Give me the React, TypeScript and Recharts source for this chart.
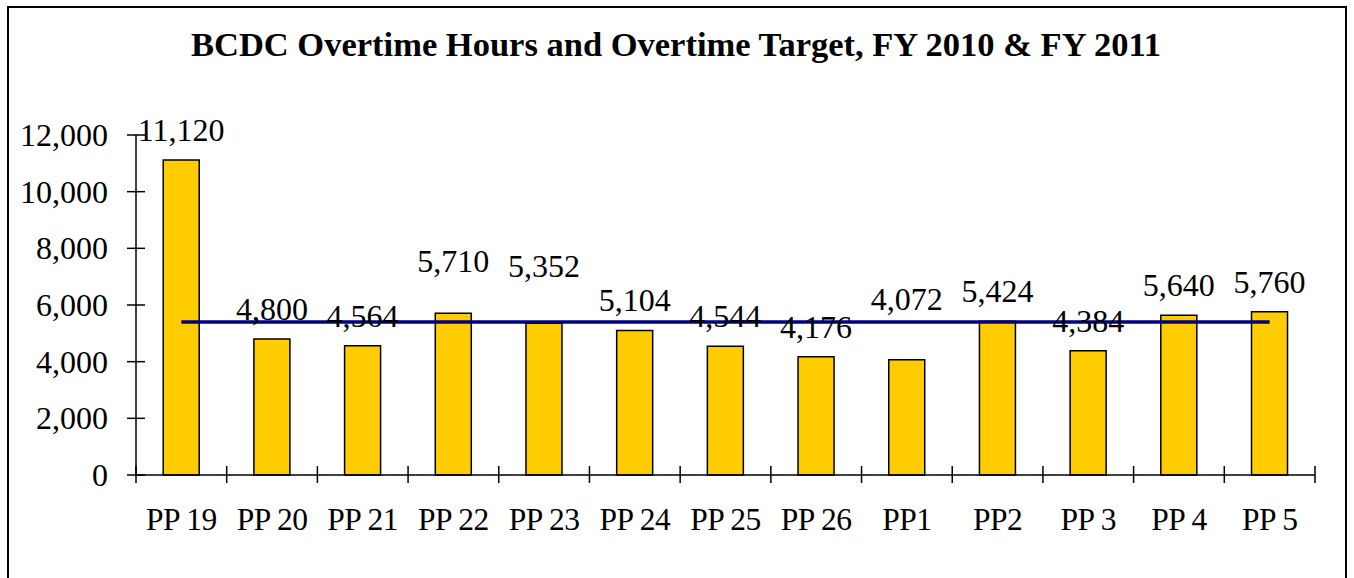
import React from "react";
import { ComposedChart, Bar, Line, XAxis, YAxis, LabelList } from "recharts";

const categories = ["PP 19", "PP 20", "PP 21", "PP 22", "PP 23", "PP 24", "PP 25", "PP 26", "PP1", "PP2", "PP 3", "PP 4", "PP 5"];
const overtimeHours = [11120, 4800, 4564, 5710, 5352, 5104, 4544, 4176, 4072, 5424, 4384, 5640, 5760];
const overtimeTarget = [5400, 5400, 5400, 5400, 5400, 5400, 5400, 5400, 5400, 5400, 5400, 5400, 5400];
const yTicks = [0, 2000, 4000, 6000, 8000, 10000, 12000];

const data = categories.map((c, i) => ({ name: c, hours: overtimeHours[i], target: overtimeTarget[i] }));

const FONT = "'Liberation Serif', 'Times New Roman', serif";
const W = 1354;
const H = 578;
const PLOT_LEFT = 136;
const PLOT_RIGHT = 1315;
const PLOT_TOP = 135;
const PLOT_BOTTOM = 475;
const BAND = (PLOT_RIGHT - PLOT_LEFT) / categories.length;

// extra lift for labels moved clear of the target line
const labelLift: Record<number, number> = { 3: 22, 4: 27, 8: 31 };

const fmt = (v: number) => v.toLocaleString("en-US");

const XTick = (props: any) => {
  const { x, payload, index } = props;
  const half = BAND / 2;
  const axisY = PLOT_BOTTOM;
  return (
    <g>
      <line x1={x - half} x2={x - half} y1={axisY - 9} y2={axisY + 8} stroke="#000" strokeWidth={1.5} />
      {index === categories.length - 1 && (
        <line x1={x + half} x2={x + half} y1={axisY - 9} y2={axisY + 8} stroke="#000" strokeWidth={1.5} />
      )}
      <text x={x} y={530} textAnchor="middle" fontFamily={FONT} fontSize={31.5} letterSpacing={-0.5} fill="#000">
        {payload.value}
      </text>
    </g>
  );
};

const YTick = (props: any) => {
  const { y, payload } = props;
  const axisX = PLOT_LEFT;
  return (
    <g>
      <line x1={axisX - 9} x2={axisX + 9} y1={y} y2={y} stroke="#000" strokeWidth={1.5} />
      <text x={108} y={y + 11} textAnchor="end" fontFamily={FONT} fontSize={32} fill="#000">
        {fmt(payload.value)}
      </text>
    </g>
  );
};

const BarLabel = (props: any) => {
  const { x, y, width, value, index } = props;
  const lift = labelLift[index] || 0;
  return (
    <text x={x + width / 2} y={y - 19 - lift} textAnchor="middle" fontFamily={FONT} fontSize={32} fill="#000">
      {fmt(value)}
    </text>
  );
};

export default function App() {
  return (
    <div style={{ position: "fixed", left: 0, top: 0, width: W, height: H, overflow: "hidden", background: "#fff" }}>
      <div
        style={{
          position: "absolute",
          left: 7,
          top: 6,
          width: 1340,
          height: 640,
          border: "2px solid #000",
          boxSizing: "border-box",
        }}
      />
      <div
        style={{
          position: "absolute",
          left: 0,
          top: 24,
          width: 1352,
          textAlign: "center",
          fontFamily: FONT,
          fontWeight: "bold",
          fontSize: 34.5,
          lineHeight: "40px",
          whiteSpace: "nowrap",
          color: "#000",
        }}
      >
        BCDC Overtime Hours and Overtime Target, FY 2010 &amp; FY 2011
      </div>
      <div style={{ position: "absolute", left: 0, top: 0 }}>
        <ComposedChart
          width={W}
          height={H}
          data={data}
          barCategoryGap="30%"
          margin={{ top: PLOT_TOP, right: W - PLOT_RIGHT, bottom: H - PLOT_BOTTOM - 60, left: PLOT_LEFT - 100 }}
        >
          <XAxis
            dataKey="name"
            height={60}
            interval={0}
            tickLine={false}
            axisLine={{ stroke: "#000", strokeWidth: 1.5 }}
            tick={<XTick />}
          />
          <YAxis
            width={100}
            domain={[0, 12000]}
            ticks={yTicks}
            interval={0}
            tickLine={false}
            axisLine={{ stroke: "#000", strokeWidth: 1.5 }}
            tick={<YTick />}
          />
          <Bar dataKey="hours" fill="#FFCC00" stroke="#000" strokeWidth={1.5} isAnimationActive={false}>
            <LabelList dataKey="hours" content={<BarLabel />} />
          </Bar>
          <Line
            dataKey="target"
            stroke="#000080"
            strokeWidth={3.5}
            dot={false}
            activeDot={false}
            isAnimationActive={false}
          />
        </ComposedChart>
      </div>
    </div>
  );
}
